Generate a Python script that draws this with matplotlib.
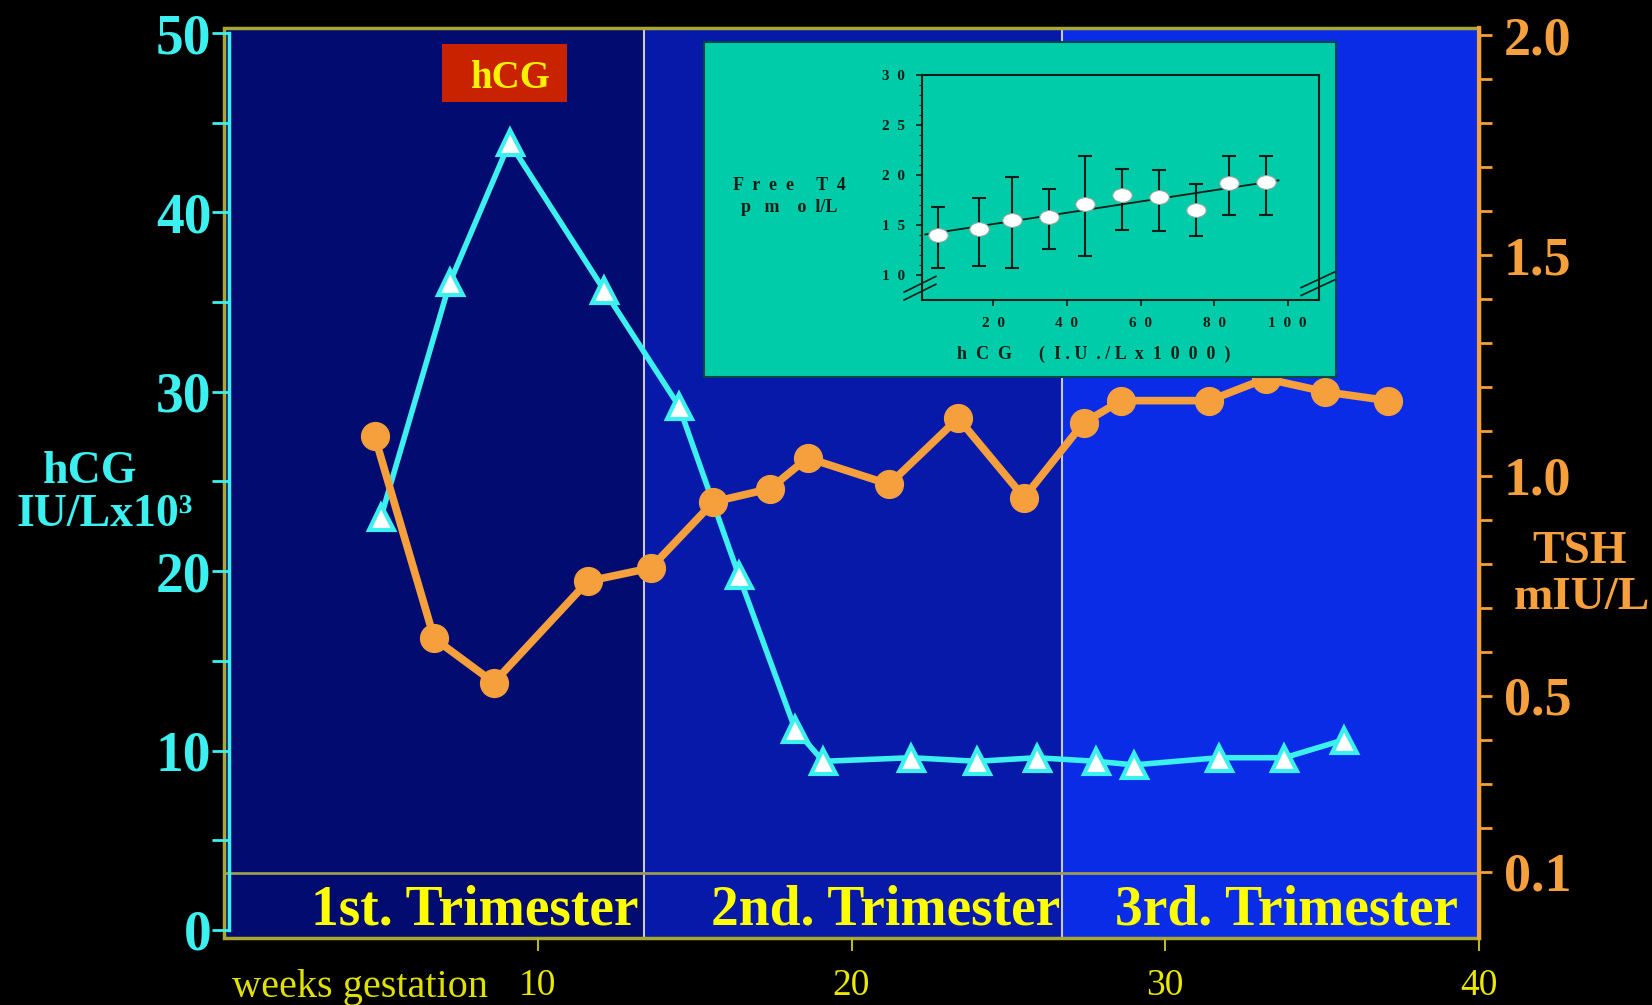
import matplotlib.pyplot as plt
import numpy as np
from matplotlib.patches import Rectangle
from matplotlib.markers import MarkerStyle
from matplotlib.transforms import Affine2D
from matplotlib.ticker import FixedLocator

plt.rcParams['font.family'] = ['Liberation Serif', 'DejaVu Serif']

# hCG (IU/L x10^3) by week of gestation
hcg_weeks = [5.0, 7.2, 9.1, 12.1, 14.5, 16.4, 18.2, 19.1, 21.9, 24.0, 25.9, 27.8, 29.0, 31.7, 33.8, 35.7]
hcg_values = [23.0, 36.1, 43.9, 35.7, 29.2, 19.8, 11.2, 9.4, 9.6, 9.4, 9.6, 9.4, 9.2, 9.6, 9.6, 10.6]

# TSH (mIU/L) by week of gestation
tsh_weeks = [4.8, 6.7, 8.6, 11.6, 13.6, 15.6, 17.4, 18.6, 21.2, 23.4, 25.5, 27.4, 28.6, 31.4, 33.2, 35.1, 37.1]
tsh_values = [1.09, 0.63, 0.53, 0.76, 0.79, 0.94, 0.97, 1.04, 0.98, 1.13, 0.95, 1.12, 1.17, 1.17, 1.22, 1.19, 1.17]

trimester_edges = [0, 13.4, 26.7, 40]
trimester_labels = ['1st. Trimester', '2nd. Trimester', '3rd. Trimester']
trimester_label_x = [8.0, 21.1, 33.85]
trimester_colors = ['#020C70', '#0619A8', '#0A2CE6']

hcg_ticks = [0, 10, 20, 30, 40, 50]
hcg_minor = [5, 15, 25, 35, 45]
tsh_ticks = [0.1, 0.5, 1.0, 1.5, 2.0]
tsh_minor = [0.2, 0.3, 0.4, 0.6, 0.7, 0.8, 0.9, 1.1, 1.2, 1.3, 1.4, 1.6, 1.7, 1.8, 1.9]
week_ticks = [10, 20, 30, 40]

# inset: free T4 (pmol/L) against hCG (IU/L x1000)
ft4_hcg = [5, 16, 25, 35, 45, 55, 65, 75, 84, 94]
ft4_mean = [14.0, 14.6, 15.5, 15.8, 17.1, 18.0, 17.8, 16.5, 19.2, 19.3]
ft4_low = [10.7, 10.9, 10.7, 12.6, 11.9, 14.5, 14.4, 13.9, 16.0, 16.0]
ft4_high = [16.8, 17.7, 19.8, 18.6, 21.9, 20.6, 20.5, 19.1, 21.9, 21.9]

CYAN = '#3CF0F0'
ORANGE = '#F5A03C'
YELLOW = '#FFFF00'
OLIVE = '#A8A830'

W, H = 1652, 1005
fig = plt.figure(figsize=(W / 100, H / 100), dpi=100, facecolor='black')


def box(x0, y0, x1, y1):
    # pixel box (top-left origin) -> figure fraction rect
    return [x0 / W, 1 - y1 / H, (x1 - x0) / W, (y1 - y0) / H]


ax = fig.add_axes(box(224, 28, 1479, 938))
ax.set_facecolor('black')
ax.set_xlim(0, 40)
ax.set_ylim(-0.45, 50.28)

# trimester panels
for i, c in enumerate(trimester_colors):
    ax.axvspan(trimester_edges[i], trimester_edges[i + 1], color=c, lw=0, zorder=0)
for x in trimester_edges[1:-1]:
    ax.axvline(x, color='#C8C8E6', lw=1.5, zorder=1)
ax.axhline(3.18, color='#9A9A50', lw=2, zorder=1)
ax.add_patch(Rectangle((0, 0), 1, 1, transform=ax.transAxes, fill=False,
                       ec=OLIVE, lw=2.5, clip_on=False, zorder=1))
for lab, x in zip(trimester_labels, trimester_label_x):
    ax.text(x, 0.28, lab, color=YELLOW, fontsize=40, fontweight='bold',
            ha='center', va='baseline', zorder=4)

for s in ['top', 'bottom', 'right']:
    ax.spines[s].set_visible(False)
ax.spines['left'].set_position(('data', 0.17))
ax.spines['left'].set_bounds(0, 50)
ax.spines['left'].set_color(CYAN)
ax.spines['left'].set_linewidth(2.5)

ax.set_yticks(hcg_ticks, labels=[str(v) for v in hcg_ticks], fontweight='bold')
ax.yaxis.set_minor_locator(FixedLocator(hcg_minor))
ax.tick_params(axis='y', which='both', direction='out', length=12, width=2,
               color=CYAN, labelcolor=CYAN, labelsize=40, pad=1)
ax.set_xticks(week_ticks)
ax.tick_params(axis='x', direction='out', length=9, width=1.5, color='#B8B820',
               labelcolor='#E8E800', labelsize=27, pad=13)

ax.plot(hcg_weeks, hcg_values, color=CYAN, lw=4, marker='^', ms=18,
        mfc='white', mec=CYAN, mew=3, zorder=3)

tw = ax.twinx()
tw.set_ylim(-0.05, 2.016)
for s in ['top', 'bottom', 'left']:
    tw.spines[s].set_visible(False)
tw.spines['right'].set_color(ORANGE)
tw.spines['right'].set_linewidth(3)
tw.set_yticks(tsh_ticks, labels=[f'{v:.1f}' for v in tsh_ticks], fontweight='bold')
tw.yaxis.set_minor_locator(FixedLocator(tsh_minor))
tw.tick_params(axis='y', which='both', direction='out', length=9, width=2,
               color=ORANGE, labelcolor=ORANGE, labelsize=39, pad=9)
tw.plot(tsh_weeks, tsh_values, color=ORANGE, lw=5.5, marker='o', ms=20, zorder=3)

# axis titles
fig.text(90 / W, 1 - 472 / H, 'hCG', color=CYAN, fontsize=33, fontweight='bold',
         ha='center', va='center')
fig.text(105 / W, 1 - 515 / H, 'IU/Lx10³', color=CYAN, fontsize=33, fontweight='bold',
         ha='center', va='center')
fig.text(1580 / W, 1 - 552 / H, 'TSH', color=ORANGE, fontsize=34, fontweight='bold',
         ha='center', va='center')
fig.text(1582 / W, 1 - 598 / H, 'mIU/L', color=ORANGE, fontsize=34, fontweight='bold',
         ha='center', va='center')
fig.text(232 / W, 1 - 987 / H, 'weeks gestation', color='#E0E000', fontsize=29,
         ha='left', va='center')

# red hCG tag
fig.add_artist(Rectangle((442 / W, 1 - 102 / H), 125 / W, 58 / H,
                         transform=fig.transFigure, fc='#C82200', ec='none'))
fig.text(510 / W, 1 - 78 / H, 'hCG', color='#FFF200', fontsize=28, fontweight='bold',
         ha='center', va='center')

# inset panel
bg = fig.add_axes(box(704, 42, 1336, 377))
bg.set_facecolor('#00CCAA')
bg.set_xticks([])
bg.set_yticks([])
for s in bg.spines.values():
    s.set_color('#004848')
    s.set_linewidth(1.5)

DARK = '#0A1E18'
inner = fig.add_axes(box(922, 75, 1319, 300))
inner.set_facecolor('none')
inner.set_xlim(0.6, 108.5)
inner.set_ylim(7.5, 30)
for s in inner.spines.values():
    s.set_color(DARK)
    s.set_linewidth(1.5)

mean = np.array(ft4_mean)
err = [mean - np.array(ft4_low), np.array(ft4_high) - mean]
inner.errorbar(ft4_hcg, ft4_mean, yerr=err, fmt='none', ecolor=DARK,
               elinewidth=1.5, capsize=5, capthick=1.5, zorder=2)
slope, icpt = np.polyfit(ft4_hcg, ft4_mean, 1)
xs = np.array([ft4_hcg[0] - 3.5, ft4_hcg[-1] + 3.5])
inner.plot(xs, icpt + slope * xs, color=DARK, lw=1.3, zorder=2)
oval = MarkerStyle('o', transform=Affine2D().scale(1.4, 1.0))
inner.plot(ft4_hcg, ft4_mean, ls='none', marker=oval, ms=10, mfc='white',
           mec='#8AA8A0', mew=0.8, zorder=3)

x_in = [20, 40, 60, 80, 100]
y_in = [10, 15, 20, 25, 30]
inner.set_xticks(x_in, labels=['  '.join(str(v)) for v in x_in], fontweight='bold')
inner.set_yticks(y_in, labels=['  '.join(str(v)) for v in y_in], fontweight='bold')
inner.yaxis.set_minor_locator(FixedLocator(list(range(11, 30))))
inner.tick_params(which='major', direction='out', length=4, width=1.2, colors=DARK,
                  labelsize=11, pad=8)
inner.tick_params(which='minor', direction='out', length=2, width=0.8, colors=DARK)

# axis break marks
for dy in (0.0, 0.035):
    inner.plot([-0.045, 0.035], [0.0 + dy, 0.07 + dy], transform=inner.transAxes,
               color=DARK, lw=1.2, clip_on=False)
    inner.plot([0.955, 1.04], [0.02 + dy, 0.09 + dy], transform=inner.transAxes,
               color=DARK, lw=1.2, clip_on=False)

fig.text(789 / W, 1 - 186 / H, 'F  r  e  e     T  4', color=DARK, fontsize=13,
         fontweight='bold', ha='center', va='center')
fig.text(789 / W, 1 - 207 / H, 'p   m    o  l/L', color=DARK, fontsize=13,
         fontweight='bold', ha='center', va='center')
fig.text(1094 / W, 1 - 354 / H, 'h  C  G      (  I . U  . / L  x  1  0  0  0  )',
         color=DARK, fontsize=13, fontweight='bold', ha='center', va='center')

fig.savefig('out.png', dpi=100, facecolor='black')
